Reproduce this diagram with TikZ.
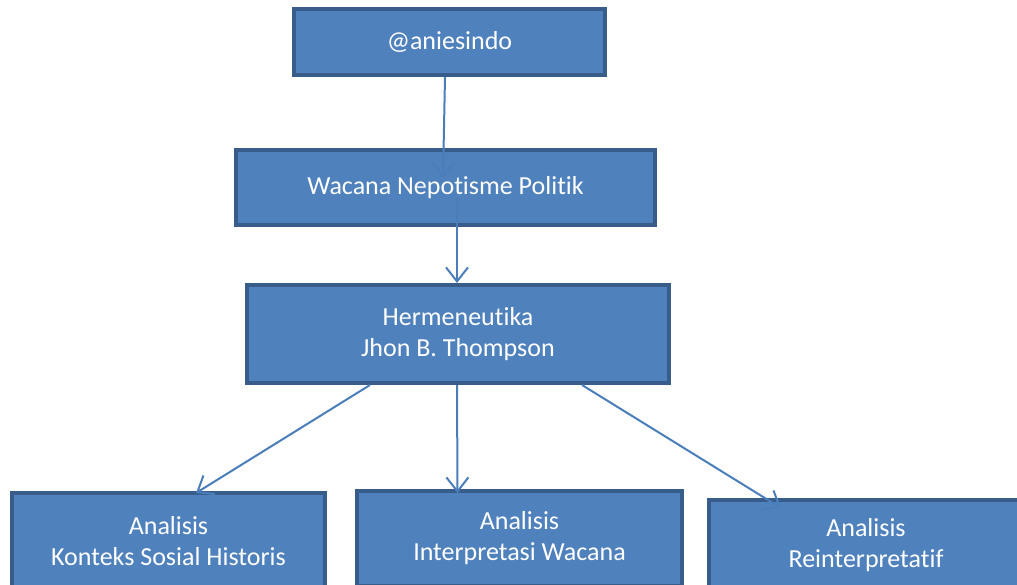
\documentclass[tikz,border=0pt]{standalone}
\usepackage{fontspec}
\setmainfont{Carlito}[Ligatures=NoCommon]
\usepackage{tikz}
\usetikzlibrary{arrows.meta}
\tikzset{
  blok/.style={draw=blokline, fill=blokfill, line width=4pt, text=white,
    align=center, inner sep=0pt, font=\fontsize{26}{31}\selectfont},
  panah/.style={draw=panahline, line width=2pt,
    -{Straight Barb[length=14pt,width=22pt]}}
}
\definecolor{blokfill}{HTML}{4F81BD}
\definecolor{blokline}{HTML}{385D8A}
\definecolor{panahline}{HTML}{4A7EBB}

\begin{document}
\begin{tikzpicture}[x=1pt, y=-1pt]
			%%%%% START %%%%%
			\useasboundingbox (0, 0) rectangle (1017, 584);
			\clip (0, 0) rectangle (1017, 584);
			
			\node[blok, minimum width=311pt, minimum height=66pt] (akun) at (449.5, 42) {@aniesindo};
			\node[blok, minimum width=419pt, minimum height=75pt] (wacana) at (445.5, 187.5) {Wacana Nepotisme Politik};
			\node[blok, minimum width=422pt, minimum height=98pt] (hermeneutika) at (458, 334) {Hermeneutika\\Jhon B. Thompson};
			
			\node[blok, minimum width=313pt, minimum height=96pt] (konteks) at (168.5, 541) {Analisis\\Konteks Sosial Historis};
			\node[blok, minimum width=325pt, minimum height=95pt] (interpretasi) at (519.5, 538.5) {Analisis\\Interpretasi Wacana};
			\node[blok, minimum width=314pt, minimum height=91pt] (reinterpretatif) at (866, 545.5) {Analisis\\Reinterpretatif};
			
			\draw[panah] ([xshift=-4.5pt]akun.south) -- ([xshift=-2.5pt, yshift=9.5pt]wacana.center);
			\draw[panah] ([xshift=11.5pt, yshift=-9.5pt]wacana.center) -- ([xshift=-1pt]hermeneutika.north);
			
			\draw[panah] ([xshift=-88pt]hermeneutika.south) -- ([xshift=27.5pt, yshift=-2pt]konteks.north);
			\draw[panah] ([xshift=-1pt]hermeneutika.south) -- ([xshift=-62pt, yshift=-4pt]interpretasi.north);
			\draw[panah] ([xshift=124pt]hermeneutika.south) -- ([xshift=-85pt, yshift=-10pt]reinterpretatif.north);
			
			%%%%% END %%%%%
\end{tikzpicture}
\end{document}
